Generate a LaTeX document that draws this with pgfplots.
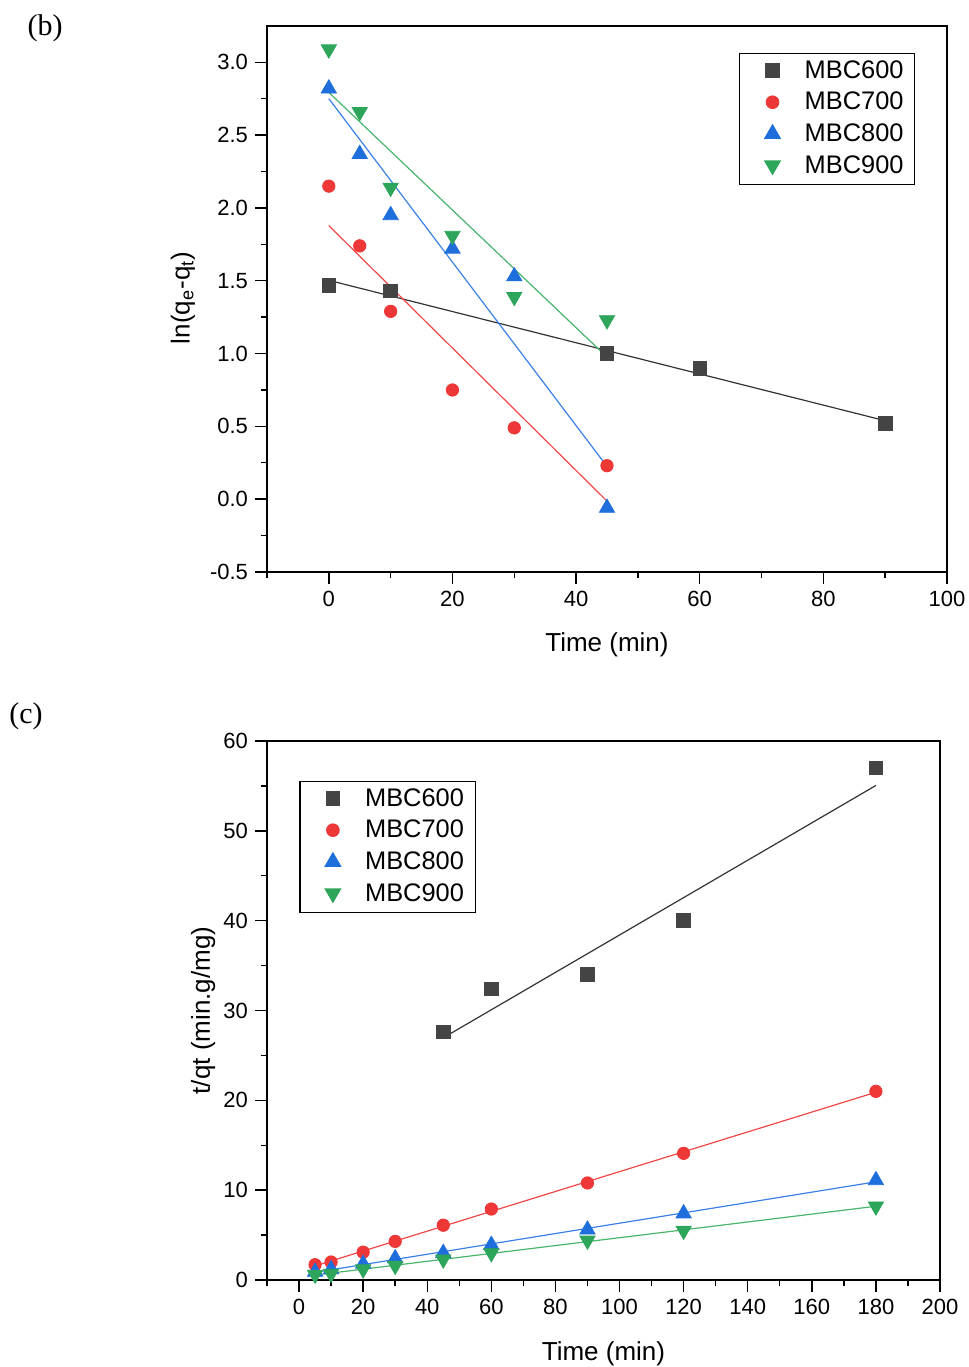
\documentclass[border=0pt]{standalone}
\usepackage{fontspec}
\setmainfont{Liberation Sans}
\newfontfamily\timesfont{Liberation Serif}
\usepackage{pgfplots}
\pgfplotsset{compat=1.18}
\definecolor{cgray}{HTML}{444444}
\definecolor{cred}{HTML}{EE3838}
\definecolor{cblue}{HTML}{1E6EDC}
\definecolor{cgreen}{HTML}{2DA55A}
\definecolor{lgray}{HTML}{333333}
\definecolor{lred}{HTML}{F04848}
\definecolor{lblue}{HTML}{3A80E6}
\definecolor{lgreen}{HTML}{48B46C}
\pgfplotsset{
  common/.style={
    scale only axis,
    axis line style={line width=0.7pt},
    tick align=outside,
    tick style={black, line width=0.7pt},
    major tick length=6pt,
    minor tick length=3pt,
    xtick pos=bottom, ytick pos=left,
    ticklabel style={font=\fontsize{11}{13}\selectfont},
    /pgf/number format/assume math mode=true,
    label style={font=\fontsize{13}{15}\selectfont},
    legend cell align=left,
    legend image code/.code={\path[draw=none] (0pt,0pt) -- (27pt,0pt); \draw[##1] plot coordinates {(12.5pt,0.6pt)};},
    legend style={draw=black, line width=0.6pt, inner xsep=4pt, inner ysep=1.2pt,
      font=\fontsize{12.7}{14}\selectfont,
      nodes={inner xsep=1.6pt, inner ysep=2.3pt, text height=8.8pt, text depth=2.4pt},
      row sep=0pt},
  },
  sq/.style={only marks, mark=square*, mark size=3.4pt, color=cgray},
  ci/.style={only marks, mark=*, mark size=3.1pt, color=cred},
  tu/.style={only marks, mark=triangle*, mark size=4.4pt, color=cblue},
  td/.style={only marks, mark=triangle*, mark size=4.4pt, color=cgreen, mark options={rotate=180}},
  fit/.style={no marks, line width=0.6pt, forget plot},
}
\begin{document}
\begin{tikzpicture}
\useasboundingbox (0,0) rectangle (484.5pt,683.5pt);
\node[font=\timesfont\fontsize{15}{17}\selectfont] at (22.5pt,669.5pt) {(b)};
\node[font=\timesfont\fontsize{15}{17}\selectfont] at (13pt,325.5pt) {(c)};
\begin{axis}[common, at={(133.5pt,397.5pt)}, anchor=south west,
  width=340pt, height=273pt,
  xmin=-10, xmax=100, ymin=-0.5, ymax=3.25,
  xtick={0,20,...,100}, minor xtick={-10,10,...,90},
  ytick={-0.5,0,...,3}, minor ytick={-0.25,0.25,...,2.75},
  yticklabel style={/pgf/number format/.cd, fixed, fixed zerofill, precision=1},
  xlabel={Time (min)}, ylabel={ln(q\textsubscript{e}-q\textsubscript{t})},
  xlabel style={at={(axis description cs:0.5,-0.133)}, anchor=center},
  ylabel style={at={(axis description cs:-0.1235,0.502)}, anchor=center},
  legend style={at={(0.694,0.9505)}, anchor=north west},
]
\addplot[fit, lgray] coordinates {(0,1.503) (90,0.539)};
\addplot[fit, lred] coordinates {(0,1.879) (45,-0.013)};
\addplot[fit, lblue] coordinates {(0,2.751) (45,0.225)};
\addplot[fit, lgreen] coordinates {(0,2.794) (45,0.976)};
\addplot[sq] coordinates {(0,1.47) (10,1.43) (45,1.00) (60,0.90) (90,0.52)};
\addplot[ci] coordinates {(0,2.15) (5,1.74) (10,1.29) (20,0.75) (30,0.49) (45,0.23)};
\addplot[tu] coordinates {(0,2.82) (5,2.37) (10,1.95) (20,1.72) (30,1.53) (45,-0.06)};
\addplot[td] coordinates {(0,3.09) (5,2.66) (10,2.14) (20,1.81) (30,1.39) (45,1.23)};
\legend{MBC600,MBC700,MBC800,MBC900}
\end{axis}
\begin{axis}[common, at={(133.5pt,43.5pt)}, anchor=south west,
  width=336.5pt, height=269.5pt,
  xmin=-10, xmax=200, ymin=0, ymax=60,
  xtick={0,20,...,200}, minor xtick={-10,10,...,190},
  ytick={0,10,...,60}, minor ytick={5,15,...,55},
  xlabel={Time (min)}, ylabel={t/qt (min.g/mg)},
  xlabel style={at={(axis description cs:0.5,-0.136)}, anchor=center},
  ylabel style={at={(axis description cs:-0.095,0.50)}, anchor=center},
  legend style={at={(0.048,0.9258)}, anchor=north west},
]
\addplot[fit, lgray] coordinates {(45,26.96) (180,55.05)};
\addplot[fit, lred] coordinates {(5,1.57) (180,20.90)};
\addplot[fit, lblue] coordinates {(5,0.85) (180,10.93)};
\addplot[fit, lgreen] coordinates {(5,0.55) (180,8.21)};
\addplot[sq] coordinates {(45,27.6) (60,32.4) (90,34.0) (120,40.0) (180,57.0)};
\addplot[ci] coordinates {(5,1.7) (10,2.0) (20,3.1) (30,4.3) (45,6.1) (60,7.9) (90,10.8) (120,14.1) (180,21.0)};
\addplot[tu] coordinates {(5,0.9) (10,1.2) (20,1.8) (30,2.4) (45,3.0) (60,3.9) (90,5.6) (120,7.4) (180,11.1)};
\addplot[td] coordinates {(5,0.6) (10,0.7) (20,1.2) (30,1.6) (45,2.3) (60,3.0) (90,4.4) (120,5.5) (180,8.2)};
\legend{MBC600,MBC700,MBC800,MBC900}
\end{axis}
\end{tikzpicture}
\end{document}
